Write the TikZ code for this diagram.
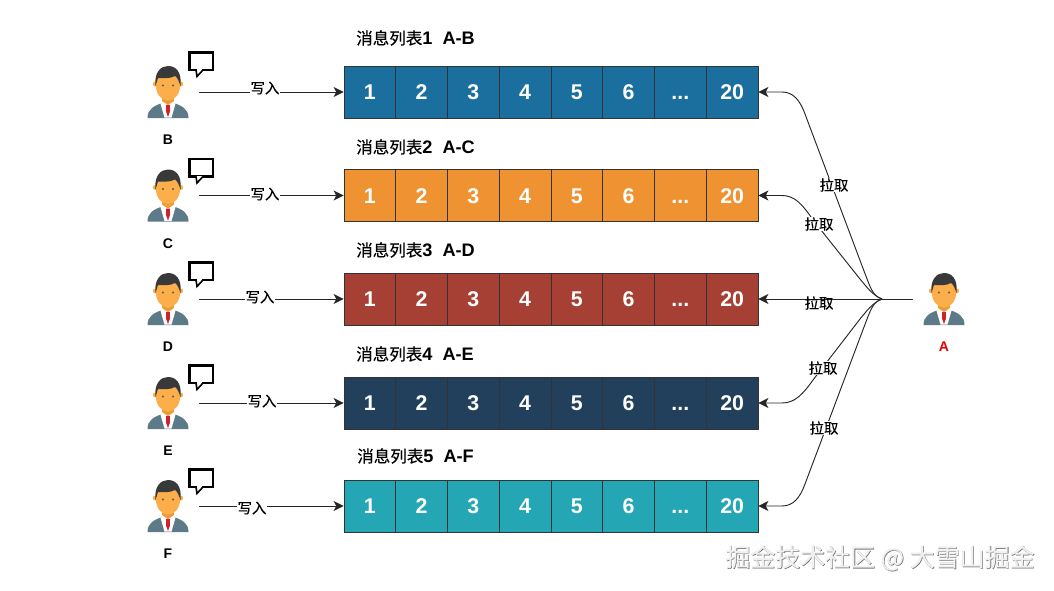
\documentclass[tikz,border=0pt]{standalone}
\usepackage{fontspec}
\setmainfont{Liberation Sans}
\newfontfamily\cjk{Noto Sans CJK SC}[FakeBold=0.3]
\usetikzlibrary{arrows.meta}

\definecolor{rowblue}{HTML}{1B6F9F}
\definecolor{roworange}{HTML}{EF9231}
\definecolor{rowred}{HTML}{A63F34}
\definecolor{rownavy}{HTML}{22405C}
\definecolor{rowteal}{HTML}{24A6B4}
\definecolor{suit}{HTML}{5D7A88}
\definecolor{skin}{HTML}{FBAE4A}
\definecolor{neck}{HTML}{F09C36}
\definecolor{hair}{HTML}{38393B}
\definecolor{tie}{HTML}{D0202E}

\newcommand\more{...}

\tikzset{
  cell/.style={draw=black!80, line width=0.6pt, text=white, inner sep=0pt, text height=11.4pt, text depth=0pt,
    minimum width=38.8pt, minimum height=38.9pt, font=\bfseries\fontsize{16}{16}\selectfont},
  title/.style={anchor=west, inner sep=0pt, font=\fontsize{13.6}{14}\selectfont},
  person/.style={minimum width=46.5pt, minimum height=39pt, inner sep=0pt},
  who/.style={inner sep=0pt, font=\bfseries\fontsize{10.5}{12}\selectfont},
  tag/.style={fill=white, inner sep=0.6pt, font=\cjk\fontsize{10.8}{12}\selectfont},
  line/.style={black!85, line width=0.7pt, -{Stealth[length=7.5pt,width=7.5pt,inset=2pt]}},
  man/.pic={
    \fill[suit] (-20.5,26) .. controls (-20.5,17) and (-14,14) .. (-6,11) -- (6,11)
      .. controls (14,14) and (20.5,17) .. (20.5,26) -- cycle;
    \fill[white] (-8,10) -- (8,10) -- (3.5,25.5) -- (-3.5,25.5) -- cycle;
    \fill[neck] (-6,2) rectangle (6,9);
    \fill[neck] (-6,9) -- (6,9) -- (0,13) -- cycle;
    \fill[tie] (-2,13) -- (2,13) -- (1.8,20) -- (0,25) -- (-1.8,20) -- cycle;
    \fill[skin] (-12.8,-8) circle (2.4) (12.8,-8) circle (2.4);
    \fill[skin] (0,-6) ellipse (12 and 14.5);
    \fill[hair] (-12.5,-6) .. controls (-14,-20) and (-7,-26) .. (0,-26)
      .. controls (8,-26) and (14,-20) .. (12.5,-6) .. controls (11,-10) and (10,-14) .. (7,-16)
      .. controls (2,-13) and (-6,-14) .. (-10,-14) .. controls (-11,-11) and (-11.5,-9) .. (-12.5,-6) -- cycle;
    \fill[black!65] (-5,-6.5) circle (1.2) (5,-6.5) circle (1.2);
  },
  bubble/.pic={
    \draw[black, line width=1.6pt, line join=miter] (21.5,-39.5) rectangle (45,-22);
    \fill[white] (29,-23) rectangle (34,-21);
    \filldraw[black, line width=1.2pt, fill=white, line join=miter] (28,-22) -- (29,-15.5) -- (35,-22);
  },
}

\begin{document}
\begin{tikzpicture}[x=0.75pt, y=-0.75pt]

  \useasboundingbox[fill=white] (0,0) rectangle (1054,590);

  % one row: colour, y, title y, person, tag x, tag y, bubble shift
  \foreach \r/\col/\y/\ty/\tx/\name/\lab/\lx/\ly/\dy in {
      1/rowblue/92/38/356/B/1~~A-B/265/88/0,
      2/roworange/195.5/147/356/C/2~~A-C/265/194/3,
      3/rowred/299/250/356/D/3~~A-D/260/297/3,
      4/rownavy/403/354/356/E/4~~A-E/262/401/2,
      5/rowteal/506/456/357/F/5~~A-F/252/508/3}{
    \foreach \i/\num in {1/1,2/2,3/3,4/4,5/5,6/6,7/\more,8/20}
      \node[cell, fill=\col] (c\r-\i) at ({344+51.75*(\i-0.5)},\y) {\num};
    \node[title] (title\r) at (\tx,\ty) {{\cjk\fontsize{12.4}{14}\selectfont 消息列表}\textbf{\lab}};
    \node[person] (per\name) at (168,\y) {};
    \pic at (per\name) {man};
    \pic[yshift={-0.75pt*\dy}] at (per\name) {bubble};
    \node[who] (name\name) at (168,\y+48) {\name};
    \draw[line] (per\name) -- (c\r-1); %% writer -> list
    \node[tag] (write\r) at (\lx,\ly) {写入};
  }

  \node[person] (perA) at (944,299) {};
  \pic at (perA) {man};
  \node[who, text=red!90!black] (nameA) at (944,347) {A};

  \coordinate (junc) at (882,299);
  \draw[black!85, line width=0.7pt] (perA) -- (junc);

  \draw[line] (junc) .. controls (872,296) and (870,286) .. (864,271) -- (805,114)
    .. controls (800,100) and (793,92) .. (782,92) -- (c1-8); %% A->1
  \draw[line] (junc) .. controls (872,295) and (866,286) .. (860,279) -- (813,220)
    .. controls (803,205) and (795,195.5) .. (782,195.5) -- (c2-8); %% A->2
  \draw[line] (junc) -- (c3-8); %% A->3
  \draw[line] (junc) .. controls (872,303) and (866,312) .. (860,319) -- (813,380)
    .. controls (803,394) and (795,403) .. (782,403) -- (c4-8); %% A->4
  \draw[line] (junc) .. controls (872,302) and (870,312) .. (864,327) -- (805,484)
    .. controls (800,498) and (793,506) .. (782,506) -- (c5-8); %% A->5

  \node[tag] (pull1) at (834,185) {拉取};
  \node[tag] (pull2) at (819,224) {拉取};
  \node[tag, fill=none] (pull3) at (819,303) {拉取};
  \node[tag] (pull4) at (823,368) {拉取};
  \node[tag] (pull5) at (824,428) {拉取};

  \node[inner sep=0pt, text=black!60, font=\cjk\fontsize{18.7}{20}\selectfont] (markshade) at (880.6,558.6) {掘金技术社区 @ 大雪山掘金};
  \node[inner sep=0pt, text=black!6, font=\cjk\fontsize{18.7}{20}\selectfont] (mark) at (880,558) {掘金技术社区 @ 大雪山掘金};

\end{tikzpicture}
\end{document}
